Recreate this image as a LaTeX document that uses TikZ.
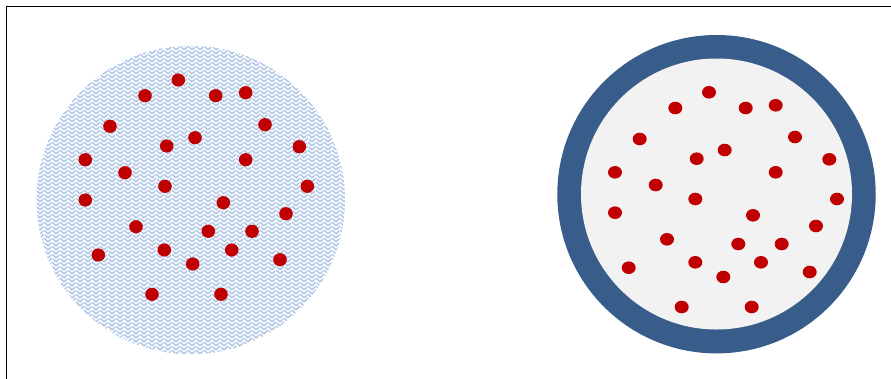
\documentclass[tikz,border=0pt]{standalone}
\usetikzlibrary{patterns}
\definecolor{ringblue}{HTML}{385D8A}
\definecolor{dotred}{HTML}{C00000}
\definecolor{innergray}{HTML}{F2F2F2}
\definecolor{weaveblue}{HTML}{A2BDE2}
\pgfdeclarepatternformonly{weave}{\pgfqpoint{-1pt}{-1pt}}{\pgfqpoint{9pt}{9pt}}{\pgfqpoint{8pt}{8pt}}{%
  \pgfsetlinewidth{1.1pt}%
  \pgfpathmoveto{\pgfqpoint{0pt}{0pt}}\pgfpathlineto{\pgfqpoint{3pt}{3pt}}%
  \pgfpathmoveto{\pgfqpoint{4pt}{4pt}}\pgfpathlineto{\pgfqpoint{8pt}{0pt}}%
  \pgfpathmoveto{\pgfqpoint{0pt}{4pt}}\pgfpathlineto{\pgfqpoint{4pt}{8pt}}%
  \pgfpathmoveto{\pgfqpoint{5pt}{7pt}}\pgfpathlineto{\pgfqpoint{8pt}{4pt}}%
  \pgfusepath{stroke}}
\tikzset{
  ldot/.style={fill=dotred},
  rdot/.style={fill=dotred},
}
\begin{document}
\begin{tikzpicture}[x=1pt,y=-1pt]
\useasboundingbox (0,0) rectangle (891,378);
\fill[white] (0,0) rectangle (891,378);
% frame
\draw[line width=1.3pt] (6.5,380) -- (6.5,6.5) -- (893,6.5);
% left circle
\fill[white] (190.8,200) circle (154.2);
\fill[pattern=weave,pattern color=weaveblue] (190.8,200) circle (154.2);
% right circle
\fill[ringblue] (716.5,194.2) circle (159.2);
\fill[innergray] (716.5,194) circle (135.5);
% left dots
\foreach \x/\y in {178.3/80,145/95.7,215.7/95.7,245.7/92.7,110/126.3,265/124.7,
  166.7/146,195/137.7,85.3/159.7,299.3/146.7,125/172.7,245.7/159.7,165/186.3,
  307.3/186.3,85.3/200,223.3/202.7,286/213.7,136/226.7,208.3/231.3,252/231.3,
  98.3/255,164.3/250,231.7/250,192.7/264,280/259.7,152/294.3,221/294.3}
  \fill[ldot] (\x,\y) ellipse [x radius=6.8, y radius=6.6];
% right dots
\foreach \x/\y in {709/92.3,675.3/108,745.7/108,775.7/105.3,639.7/139,795/137,
  696.7/158.7,724.7/150,615/172.3,829.3/159.3,655.7/185,775.7/172.3,
  695.3/199,837/199,615/212.7,753/215.3,816/226,667/239.3,738.3/244,781.7/244,
  628.7/267.7,695.3/262.3,761/262.3,723.3/277,809.7/272,681.7/307,751.7/307}
  \fill[rdot] (\x,\y) ellipse [x radius=7, y radius=6.3];
\end{tikzpicture}
\end{document}
